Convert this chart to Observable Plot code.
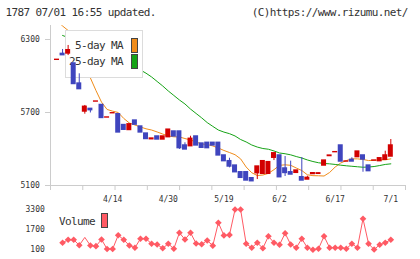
<!DOCTYPE html>
<html><head><meta charset="utf-8">
<script src="https://cdn.jsdelivr.net/npm/d3@7"></script>
<script src="https://cdn.jsdelivr.net/npm/@observablehq/plot@0.6"></script>
<style>
html,body{margin:0;padding:0;background:#fff;}
#wrap{position:relative;width:420px;height:259px;overflow:hidden;background:#fff;font-family:"DejaVu Sans Mono",monospace;color:#333;}
.t{position:absolute;font-size:11px;line-height:11px;letter-spacing:-0.62px;white-space:nowrap;}
.layer{position:absolute;left:0;}
.sw{position:absolute;box-sizing:border-box;border:1px solid #444;width:7px;height:15px;}
</style></head><body>
<div id="wrap"></div>
<script>
// ---- data ----
const open = [6133,6182,6185,6103,5938,5708,5730,5790,5762,5659,
              5694,5686,5597,5556,5634,5585,5527,5480,5503,5478,
              5497,5544,5544,5429,5423,5503,5445,5451,5451,5451,
              5347,5300,5264,5209,5209,5160,5201,5196,5196,5328,
              5347,5240,5209,5204,5168,5149,5194,5196,5264,5342,
              5374,5429,5297,5311,5333,5347,5264,5305,5300,5311,
              5338];
const close = [6133,6171,6212,5934,5892,5747,5719,5790,5655,5659,
               5694,5536,5558,5603,5600,5536,5482,5486,5478,5503,
               5559,5503,5407,5396,5484,5429,5410,5407,5429,5347,
               5300,5256,5209,5163,5141,5135,5256,5300,5292,5365,
               5168,5203,5190,5223,5141,5163,5201,5200,5305,5346,
               5374,5297,5297,5297,5379,5314,5218,5305,5324,5347,
               5429];
const high = [6133,6218,6251,6103,6018,5758,5730,5790,5762,5659,
              5694,5686,5597,5603,5634,5585,5527,5486,5503,5503,
              5559,5544,5544,5451,5505,5503,5445,5451,5451,5451,
              5347,5324,5264,5209,5209,5160,5256,5300,5292,5365,
              5347,5338,5300,5223,5330,5176,5201,5200,5305,5346,
              5374,5429,5297,5328,5379,5347,5264,5305,5324,5382,
              5478];
const low = [6133,6171,6168,5934,5892,5686,5696,5790,5655,5659,
             5694,5536,5558,5556,5600,5536,5482,5480,5478,5478,
             5497,5503,5396,5396,5423,5429,5410,5407,5429,5347,
             5300,5245,5209,5163,5141,5135,5149,5196,5196,5305,
             5168,5174,5190,5204,5141,5149,5194,5196,5264,5342,
             5374,5297,5297,5297,5333,5209,5218,5305,5300,5311,
             5338];
const ma5 = [6456,6411,6374,6275,6177,6078,5984,5881,5785,5725,
             5711,5700,5651,5614,5597,5581,5566,5556,5540,5523,
             5507,5500,5499,5486,5474,5458,5441,5437,5425,5408,
             5388,5371,5353,5319,5252,5205,5182,5186,5200,5230,
             5266,5270,5266,5244,5223,5188,5181,5180,5178,5207,
             5252,5285,5305,5319,5319,5314,5305,5307,5311,5311,
             5319];
const ma25 = [null,6333,6316,6296,6275,6255,6234,6214,6193,6173,
              6152,6131,6111,6090,6070,6049,6023,5992,5955,5918,
              5877,5840,5803,5770,5728,5692,5656,5617,5586,5556,
              5539,5526,5507,5478,5458,5433,5416,5404,5398,5384,
              5367,5361,5352,5338,5326,5310,5297,5287,5281,5278,
              5273,5267,5262,5258,5254,5250,5252,5256,5264,5273,
              5278];
const volume = [null,600,840,840,400,1030,380,330,860,100,
                100,1200,840,380,200,920,920,520,460,160,
                520,120,1400,860,1400,540,480,780,370,2200,
                1190,1230,3260,3260,520,200,600,160,1120,600,
                440,1360,460,200,920,200,40,120,1120,200,
                200,200,120,520,200,2520,520,60,440,600,
                840];
const yTicks = [5100,5700,6300];
const volTicks = [100,1700,3300];
const labelIdx = [10,20,30,40,50,60];
const labelText = ["4/14","4/30","5/19","6/2","6/17","7/1"];

// ---- styles ----
const RED = "#d20000", BLUE = "#3f45be", ORANGE = "#f08c1a", GREEN = "#16a316", VOL = "#ff5a64";
const AXIS = "#cccccc", TXT = "#333333";

const data = open.map((o, i) => ({i, o, c: close[i], h: high[i], l: low[i], m5: ma5[i], m25: ma25[i], v: volume[i]}));
const xDomain = [-1.17, 62.64];
const gridTicks = d3.range(12).map(k => xDomain[0] + k * (xDomain[1] - xDomain[0]) / 11);
const labelMap = new Map(labelIdx.map((d, k) => [d, labelText[k]]));
const common = {width: 420, marginLeft: 50, marginRight: 15,
  style: {background: "transparent", fontFamily: "DejaVu Sans Mono", fontSize: "8px", color: TXT, overflow: "visible"}};

const plotA = Plot.plot({
  ...common, height: 205, marginTop: 25, marginBottom: 20,
  x: {type: "linear", domain: xDomain, label: null},
  y: {domain: [5100, 6415], label: null},
  marks: [
    Plot.line(data, {x: "i", y: "m5", stroke: ORANGE, strokeWidth: 1, clip: true}),
    Plot.line(data.filter(d => d.m25 != null), {x: "i", y: "m25", stroke: GREEN, strokeWidth: 1, clip: true}),
    Plot.ruleY([5100], {stroke: AXIS}),
    Plot.ruleX([xDomain[0]], {stroke: AXIS}),
    Plot.axisY(yTicks, {tickSize: 5, tickPadding: 5.7, stroke: AXIS, fill: TXT, label: null, tickFormat: d => String(d)}),
    Plot.axisX(gridTicks, {tickSize: 5, stroke: AXIS, label: null, tickFormat: () => ""}),
    Plot.axisX(labelIdx, {tickSize: 0, tickPadding: 10.5, fill: TXT, label: null, tickFormat: d => labelMap.get(d)})
  ]
});

const plotB = Plot.plot({
  ...common, height: 205, marginTop: 25, marginBottom: 20,
  x: {type: "linear", domain: xDomain, axis: null},
  y: {domain: [5100, 6415], axis: null},
  color: {type: "identity"},
  marks: [
    Plot.ruleX(data, {x: "i", y1: "l", y2: "h", stroke: d => d.c >= d.o ? RED : BLUE, strokeWidth: 1}),
    Plot.rect(data, {x1: d => d.i - 0.45, x2: d => d.i + 0.45, y1: "o", y2: "c",
      fill: d => d.c >= d.o ? RED : BLUE, insetTop: -0.7, insetBottom: -0.7})
  ]
});

const volData = data.filter(d => d.v != null);
const plotC = Plot.plot({
  ...common, height: 69, marginTop: 0, marginBottom: 0,
  x: {type: "linear", domain: xDomain, axis: null},
  y: {domain: [100, 3300], range: [58.5, 18.5], label: null},
  marks: [
    Plot.axisY(volTicks, {tickSize: 0, tickPadding: 5.7, fill: TXT, label: null, tickFormat: d => String(d)}),
    Plot.line(volData, {x: "i", y: "v", stroke: VOL, strokeWidth: 1}),
    Plot.dot(volData.filter(d => d.i !== 5), {x: "i", y: "v", symbol: "diamond2", r: 3, fill: VOL, stroke: null})
  ]
});

const wrap = document.getElementById("wrap");
function add(el, top, z) { el.classList.add("layer"); el.style.top = top + "px"; el.style.zIndex = z; el.style.pointerEvents = "none"; wrap.appendChild(el); }
function txt(s, left, top, z) { const d = document.createElement("div"); d.className = "t"; d.textContent = s; d.style.left = left + "px"; d.style.top = top + "px"; d.style.zIndex = z || 5; wrap.appendChild(d); return d; }
function sw(color, left, top, z) { const d = document.createElement("div"); d.className = "sw"; d.style.background = color; d.style.left = left + "px"; d.style.top = top + "px"; d.style.zIndex = z || 5; wrap.appendChild(d); }

add(plotA, 0, 1);
// legend box (covers MA lines, under candles)
const box = document.createElement("div");
Object.assign(box.style, {position: "absolute", left: "65px", top: "30px", width: "78px", height: "47.5px", boxSizing: "border-box",
  border: "1px solid #dcdcdc", background: "#fff", zIndex: 2});
wrap.appendChild(box);
txt("5-day MA", 75, 39.7, 2);
txt("25-day MA", 69, 56.4, 2);
sw(ORANGE, 130.5, 37.5, 2);
sw(GREEN, 130.5, 54, 2);
add(plotB, 0, 3);
add(plotC, 190, 1);
txt("Volume", 59, 216.4, 4);
sw(VOL, 101.2, 213.3, 4);

txt("1787 07/01 16:55 updated.", 5.6, 7, 5);
txt("(C)https://www.rizumu.net/", 251.8, 7, 5);
</script>
</body></html>
